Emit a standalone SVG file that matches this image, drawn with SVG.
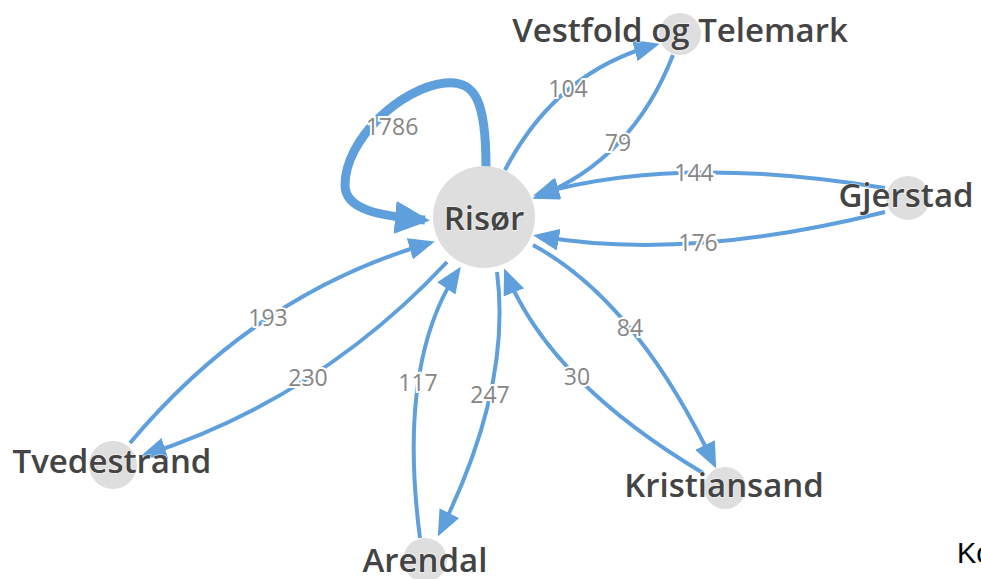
<svg xmlns="http://www.w3.org/2000/svg" width="981" height="579" viewBox="0 0 981 579">
<style>
.e{fill:none;stroke:#5fa0dc;stroke-width:4;marker-end:url(#ah)}
.loop{fill:none;stroke:#5fa0dc;stroke-width:9;marker-end:url(#ahb)}
.el{font-family:"Open Sans","DejaVu Sans",sans-serif;font-size:23px;fill:#858585;text-anchor:middle;stroke:#fff;stroke-width:4;paint-order:stroke}
.n{fill:#dedede}
.nl{font-family:"Open Sans","DejaVu Sans",sans-serif;font-size:33px;font-weight:600;fill:#444;text-anchor:middle;stroke:#fff;stroke-width:1.5;stroke-opacity:.6;paint-order:stroke}
</style>
<defs>
<marker id="ah" markerUnits="userSpaceOnUse" markerWidth="26" markerHeight="22" refX="21" refY="11" orient="auto"><path d="M0,0 L26,11 L0,22 z" fill="#5fa0dc"/></marker>
<marker id="ahb" markerUnits="userSpaceOnUse" markerWidth="35" markerHeight="33" refX="30" refY="16.5" orient="auto"><path d="M0,0 L35,16.5 L0,33 z" fill="#5fa0dc"/></marker>
</defs>
<rect width="981" height="579" fill="#fff"/>
<g id="edges">
<path class="loop" d="M486 167 C486 100 475 80 445 83 C400 88 345 140 345 185 C345 210 380 216 425 220"/>
<path class="e" d="M505 170 Q556 72 655 45"/>
<path class="e" d="M673 55 Q632 160 537 197"/>
<path class="e" d="M885 188 Q677 154 538 194"/>
<path class="e" d="M885 212 Q685 262 538 236"/>
<path class="e" d="M533 245 Q636 301 714 464"/>
<path class="e" d="M703 473 Q550 382 506 273"/>
<path class="e" d="M497 272 Q512 388 440 532"/>
<path class="e" d="M420 538 Q397 362 458 271"/>
<path class="e" d="M130 443 Q256 293 430 243"/>
<path class="e" d="M447 262 Q320 398 145 455"/>
<text class="el" x="392" y="135">1786</text>
<text class="el" x="568" y="97">104</text>
<text class="el" x="618" y="151">79</text>
<text class="el" x="694" y="181">144</text>
<text class="el" x="698" y="251">176</text>
<text class="el" x="630" y="336">84</text>
<text class="el" x="577" y="385">30</text>
<text class="el" x="490" y="403">247</text>
<text class="el" x="418" y="391">117</text>
<text class="el" x="268" y="326">193</text>
<text class="el" x="308" y="386">230</text>
</g>
<g id="node-risor"><circle class="n" cx="484" cy="217" r="51"/><text class="nl" x="484" y="230">Risør</text></g>
<g id="node-vestfold"><circle class="n" cx="680" cy="34" r="21"/><text class="nl" x="680" y="42">Vestfold og Telemark</text></g>
<g id="node-gjerstad"><circle class="n" cx="908" cy="198" r="22"/><text class="nl" x="906" y="207">Gjerstad</text></g>
<g id="node-tvedestrand"><circle class="n" cx="113" cy="465" r="24"/><text class="nl" x="112" y="473">Tvedestrand</text></g>
<g id="node-arendal"><circle class="n" cx="425" cy="560" r="22"/><text class="nl" x="425" y="572">Arendal</text></g>
<g id="node-kristiansand"><circle class="n" cx="725" cy="488" r="21"/><text class="nl" x="724" y="497">Kristiansand</text></g>
<text x="957" y="563" font-family="Liberation Sans, Arial, sans-serif" font-size="29" fill="#000">Ko</text>
</svg>
